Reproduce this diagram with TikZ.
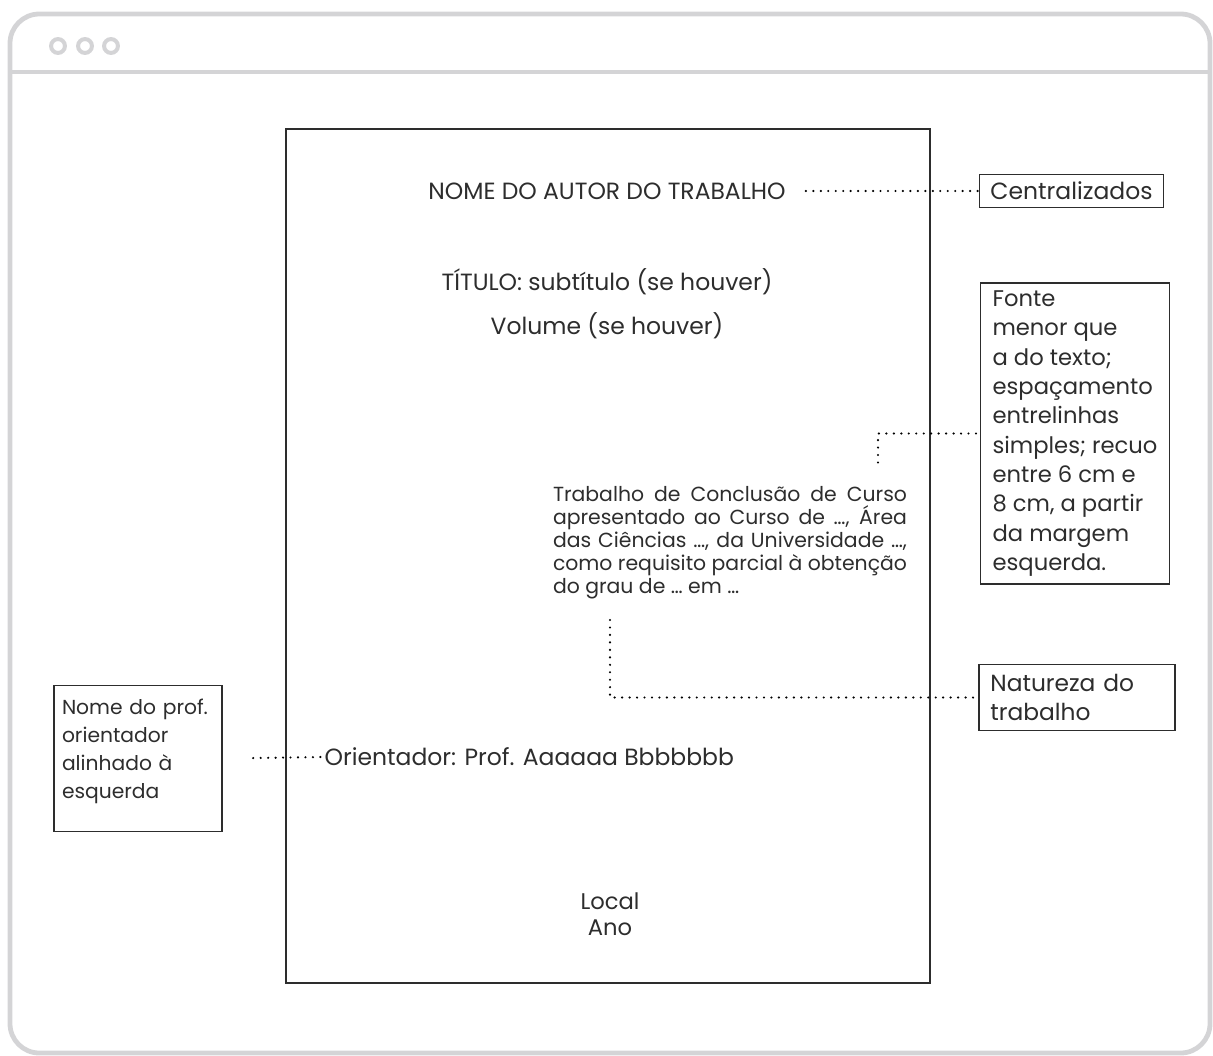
\documentclass[tikz,border=0pt]{standalone}
\usepackage{fontspec}
\setmainfont{Poppins}
\usetikzlibrary{positioning}

\definecolor{framegray}{RGB}{212,212,214}
\definecolor{ink}{RGB}{45,45,45}

\begin{document}
\begin{tikzpicture}[x=0.75pt, y=-0.75pt,
	frame/.style={draw=framegray, line width=3.6pt},
	page/.style={draw=ink, line width=0.9pt, minimum width=483pt, minimum height=640.5pt},
	title/.style={text=ink, inner sep=1pt, font=\fontsize{17.6}{20}\selectfont},
	body/.style={text=ink, inner sep=0pt, text width=265.5pt, align=justify, font=\fontsize{15.3}{17.3}\selectfont},
	note/.style={draw=ink, line width=0.8pt, text=ink, align=left, inner sep=0pt},
	dots/.style={draw=black, line width=1.8pt, line cap=round, dash pattern=on 0pt off 5.6pt}]
	\useasboundingbox (0,0) rectangle (1213,1056);

	% Browser window
	\draw [frame, rounded corners=22pt] (10,14) rectangle (1210,1053);
	\draw [frame, line width=3pt] (10,72) -- (1210,72);
	\foreach \x in {58,85,111}
		\draw [frame, line width=3pt] (\x,46) circle (5.2pt);

	% Page and its texts
	\node [page]   (page)     at (608,556)   {};
	\node [title]  (autor)    at (607,191)   {NOME DO AUTOR DO TRABALHO};
	\node [title]  (titulo)   at (607,282)   {TÍTULO: subtítulo (se houver)};
	\node [title]  (volume)   at (607,326)   {Volume (se houver)};
	\node [body]   (natureza) at (730,543)   {Trabalho de Conclusão de Curso\linebreak apresentado ao Curso de …, Área\linebreak das Ciências …, da Universidade …,\linebreak como requisito parcial à obtenção\linebreak do grau de … em …};
	\node [title, anchor=west] (orient) at (323,757) {Orientador: Prof. Aaaaaa Bbbbbbb};
	\node [title, align=center, font=\fontsize{17}{19.5}\selectfont] (local) at (610,914) {Local\\Ano};

	% Notes
	\node [note, minimum width=138pt, minimum height=24.75pt, align=center, font=\fontsize{17.6}{20}\selectfont] (ncentr) at (1071.5,191) {Centralizados};
	\node [note, minimum width=141.75pt, minimum height=225.75pt, font=\fontsize{17}{22}\selectfont] (nfonte) at (1075,433.5)
		{Fonte\\menor que\\a do texto;\\espaçamento\\entrelinhas\\simples; recuo\\entre 6 cm e\\8 cm, a partir\\da margem\\esquerda.};
	\node [note, inner xsep=8.5pt, text width=130pt, minimum height=49.5pt, font=\fontsize{17.5}{21.75}\selectfont] (nnatur) at (1077,697.5) {Natureza do\\trabalho};
	\node [note, inner xsep=6pt, text width=114pt, minimum height=110pt, font=\fontsize{15.2}{21}\selectfont] (nprof) at (138,758.5) {Nome do prof.\\orientador\\alinhado à\\esquerda\\[-6pt]\mbox{}};

	% Connectors
	\coordinate (fend)   at (878,465);
	\coordinate (nstart) at (610,620);
	\draw [dots, shorten <=14pt] (autor.east) -- (ncentr.west);
	\draw [dots, shorten <=3pt] (nfonte.west) -| (fend);
	\draw [dots, shorten >=3pt] (nstart) |- (nnatur.west);
	\draw [dots, shorten <=23pt] (nprof.east) -- (orient.west);
\end{tikzpicture}
\end{document}
